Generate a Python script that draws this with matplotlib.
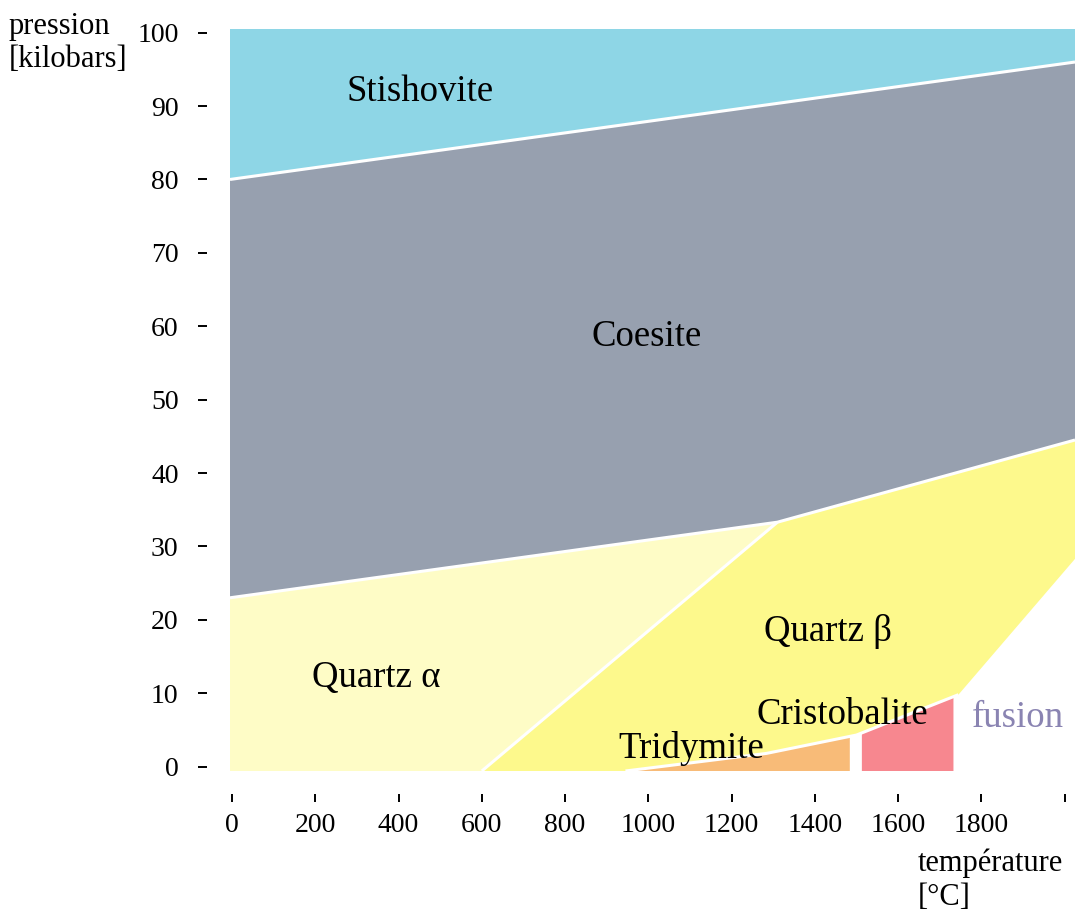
import numpy as np
import matplotlib
matplotlib.use("Agg")
import matplotlib.pyplot as plt

# ---- data (temperature in °C, pressure in kbar) ----
T_MIN, T_MAX = -5, 2025
P_MIN, P_MAX = -0.6, 100.5

# phase boundaries
stish_coes_T = [T_MIN, T_MAX]
stish_coes_P = [80.0, 96.0]

coes_qtz_T = [T_MIN, 1310, T_MAX]
coes_qtz_P = [23.0, 33.3, 44.5]

alpha_beta_T = [600, 1310]
alpha_beta_P = [P_MIN, 33.3]

# lower boundary of beta-quartz (above tridymite / cristobalite)
beta_low_T = [945, 1284, 1500, 1745]
beta_low_P = [P_MIN, 1.8, 4.3, 9.8]

beta_liq_T = [1745, T_MAX]
beta_liq_P = [9.8, 28.3]

trid_T = [945, 1484]
crist_T = [1513, 1733]

# tick values
x_ticks = [0, 200, 400, 600, 800, 1000, 1200, 1400, 1600, 1800, 2000]
x_tick_labels = ["0", "200", "400", "600", "800", "1000", "1200", "1400",
                 "1600", "1800", ""]
y_ticks = [0, 10, 20, 30, 40, 50, 60, 70, 80, 90, 100]

# region labels
labels = ["Stishovite", "Coesite", "Quartz α", "Quartz β",
          "Cristobalite", "Tridymite", "fusion"]
label_T = [451, 996, 346, 1431, 1467, 1102, 1887]
label_P = [92.0, 58.6, 12.1, 18.4, 7.1, 2.5, 6.7]
label_colors = ["black", "black", "black", "black", "black", "black", "#8a84b2"]

# colours
c_stish = "#8ed6e6"
c_coes = "#97a0af"
c_alpha = "#fefcc6"
c_beta = "#fdf98c"
c_trid = "#f8bb78"
c_crist = "#f7878f"

FONT = "Liberation Serif"

fig = plt.figure(figsize=(10.77, 9.15), dpi=100)
ax = fig.add_axes([230 / 1077, 1 - 771 / 915, (1075 - 230) / 1077, (771 - 29) / 915])
ax.set_xlim(T_MIN, T_MAX)
ax.set_ylim(P_MIN, P_MAX)

# Stishovite
ax.fill(stish_coes_T + [T_MAX, T_MIN],
        stish_coes_P + [P_MAX, P_MAX], color=c_stish, lw=0)
# Coesite
ax.fill(coes_qtz_T + stish_coes_T[::-1],
        coes_qtz_P + stish_coes_P[::-1], color=c_coes, lw=0)
# Quartz alpha
ax.fill([T_MIN] + alpha_beta_T + [T_MIN],
        [P_MIN] + alpha_beta_P + [coes_qtz_P[0]], color=c_alpha, lw=0)
# Quartz beta
bT = [alpha_beta_T[0]] + beta_low_T + beta_liq_T[1:] + [coes_qtz_T[2], coes_qtz_T[1]]
bP = [P_MIN] + beta_low_P + beta_liq_P[1:] + [coes_qtz_P[2], coes_qtz_P[1]]
ax.fill(bT, bP, color=c_beta, lw=0)

# Tridymite
tT = [t for t in beta_low_T if trid_T[0] <= t <= trid_T[1]]
tTop = list(np.interp(tT + [trid_T[1]], beta_low_T, beta_low_P))
ax.fill(tT + [trid_T[1], trid_T[1], trid_T[0]],
        tTop + [P_MIN, P_MIN], color=c_trid, lw=0)
# Cristobalite
cT = [crist_T[0]] + [t for t in beta_low_T if crist_T[0] < t < crist_T[1]] + [crist_T[1]]
cTop = list(np.interp(cT, beta_low_T, beta_low_P))
ax.fill(cT + [crist_T[1], crist_T[0]], cTop + [P_MIN, P_MIN], color=c_crist, lw=0)

# white boundary lines
for tx, py in [(stish_coes_T, stish_coes_P), (coes_qtz_T, coes_qtz_P),
               (alpha_beta_T, alpha_beta_P), (beta_low_T, beta_low_P)]:
    ax.plot(tx, py, color="white", lw=2.2, solid_capstyle="butt")

for s, t, p, c in zip(labels, label_T, label_P, label_colors):
    ax.text(t, p, s, ha="center", va="center", fontsize=26.5, family=FONT, color=c)

# axes styling
for side in ["top", "right", "left", "bottom"]:
    ax.spines[side].set_visible(False)
ax.spines["left"].set_position(("outward", 16.5))
ax.spines["bottom"].set_position(("outward", 16.5))

ax.set_xticks(x_ticks)
ax.set_xticklabels(x_tick_labels)
ax.set_yticks(y_ticks)
ax.set_yticklabels([str(v) for v in y_ticks])
ax.tick_params(axis="x", direction="out", length=5.8, width=1.4, pad=8,
               labelsize=20, color="black")
ax.tick_params(axis="y", direction="out", length=6.5, width=1.4, pad=14,
               labelsize=20, color="black")
for lab in ax.get_xticklabels() + ax.get_yticklabels():
    lab.set_family(FONT)

fig.text(9 / 1077, 1 - 12 / 915, "pression\n[kilobars]", ha="left", va="top",
         fontsize=22, family=FONT, linespacing=1.2)
fig.text(918 / 1077, 1 - 848 / 915, "température\n[°C]", ha="left", va="top",
         fontsize=22, family=FONT, linespacing=1.25)

fig.savefig("out.png", dpi=100)
